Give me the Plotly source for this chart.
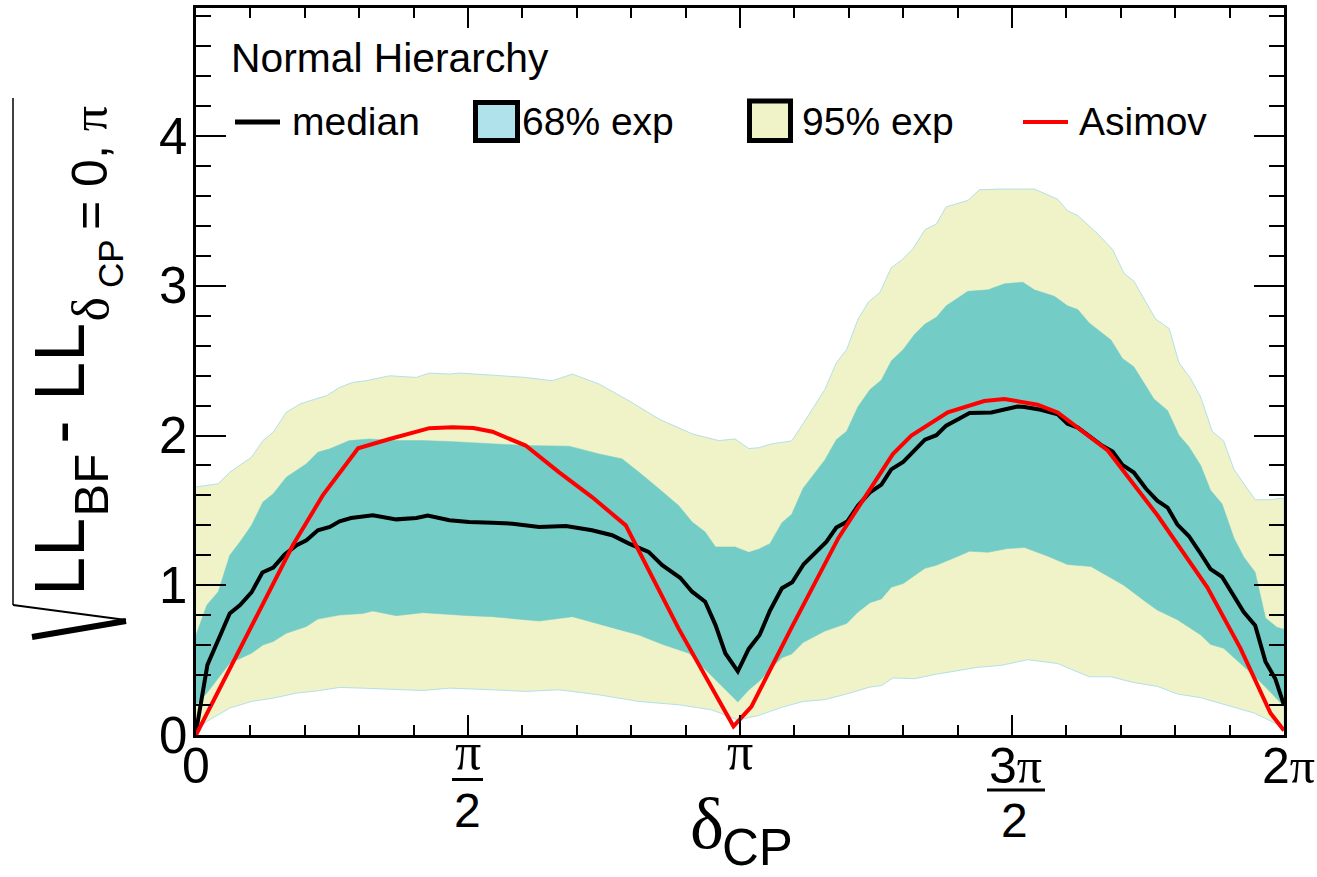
import plotly.graph_objects as go

# ---------------- data (x in units of pi) ----------------
median_x = [0.0, 0.021, 0.062, 0.081, 0.102, 0.122, 0.142, 0.163, 0.185, 0.203, 0.224, 0.246, 0.264, 0.285,
            0.325, 0.368, 0.405, 0.426, 0.466, 0.502, 0.545, 0.582, 0.631, 0.680, 0.728, 0.765, 0.796, 0.832,
            0.857, 0.890, 0.912, 0.936, 0.955, 0.973, 0.996, 1.016, 1.036, 1.055, 1.077, 1.096, 1.117, 1.138,
            1.159, 1.177, 1.197, 1.217, 1.239, 1.260, 1.278, 1.300, 1.321, 1.340, 1.361, 1.379, 1.401, 1.422,
            1.462, 1.486, 1.510, 1.523, 1.553, 1.584, 1.602, 1.621, 1.645, 1.666, 1.685, 1.703, 1.724, 1.746,
            1.767, 1.786, 1.804, 1.825, 1.844, 1.865, 1.886, 1.908, 1.926, 1.947, 1.966, 1.984, 2.0]
median_y = [0.02, 0.468, 0.812, 0.868, 0.952, 1.085, 1.118, 1.205, 1.267, 1.300, 1.367, 1.389, 1.427, 1.449,
            1.467, 1.440, 1.449, 1.465, 1.434, 1.423, 1.418, 1.411, 1.389, 1.396, 1.367, 1.334, 1.278, 1.223,
            1.134, 1.050, 0.957, 0.890, 0.734, 0.546, 0.425, 0.575, 0.668, 0.830, 0.980, 1.020, 1.140, 1.214,
            1.291, 1.385, 1.425, 1.532, 1.621, 1.672, 1.774, 1.824, 1.901, 1.972, 2.002, 2.066, 2.109, 2.150,
            2.154, 2.175, 2.193, 2.190, 2.172, 2.142, 2.079, 2.053, 1.989, 1.931, 1.893, 1.804, 1.753, 1.646,
            1.565, 1.519, 1.405, 1.329, 1.227, 1.108, 1.057, 0.922, 0.821, 0.732, 0.490, 0.376, 0.20]

asimov_x = [0.0, 0.062, 0.099, 0.178, 0.233, 0.298, 0.356, 0.429, 0.472, 0.510, 0.545, 0.606, 0.667, 0.728,
            0.790, 0.887, 0.988, 1.021, 1.095, 1.181, 1.281, 1.315, 1.382, 1.449, 1.486, 1.547, 1.584, 1.676,
            1.767, 1.859, 1.920, 1.975, 2.0]
asimov_y = [0.0, 0.44, 0.70, 1.267, 1.60, 1.915, 1.977, 2.049, 2.055, 2.050, 2.025, 1.933, 1.756, 1.589,
            1.40, 0.712, 0.058, 0.19, 0.719, 1.316, 1.876, 2.00, 2.155, 2.23, 2.244, 2.206, 2.154, 1.90,
            1.469, 0.986, 0.579, 0.147, 0.03]

up95_x = [0.0, 0.041, 0.062, 0.102, 0.123, 0.142, 0.166, 0.191, 0.209, 0.240, 0.264, 0.288, 0.313, 0.356,
          0.405, 0.429, 0.466, 0.484, 0.545, 0.606, 0.655, 0.692, 0.741, 0.796, 0.851, 0.912, 0.961, 0.991,
          1.016, 1.034, 1.058, 1.095, 1.116, 1.156, 1.177, 1.196, 1.217, 1.236, 1.257, 1.278, 1.297, 1.318,
          1.340, 1.361, 1.379, 1.419, 1.440, 1.480, 1.541, 1.584, 1.602, 1.621, 1.657, 1.685, 1.706, 1.724,
          1.764, 1.789, 1.807, 1.828, 1.847, 1.868, 1.889, 1.908, 1.947, 1.975, 2.0]
up95_y = [1.656, 1.678, 1.755, 1.855, 1.966, 2.022, 2.155, 2.210, 2.232, 2.266, 2.321, 2.355, 2.366, 2.399,
          2.388, 2.417, 2.410, 2.417, 2.403, 2.388, 2.366, 2.410, 2.344, 2.232, 2.110, 2.011, 1.966, 1.977,
          1.913, 1.918, 1.944, 1.964, 2.079, 2.307, 2.485, 2.574, 2.778, 2.891, 2.955, 3.120, 3.171, 3.248,
          3.374, 3.413, 3.527, 3.570, 3.641, 3.646, 3.646, 3.578, 3.501, 3.469, 3.349, 3.242, 3.083, 3.031,
          2.778, 2.714, 2.485, 2.383, 2.256, 2.028, 1.964, 1.774, 1.571, 1.571, 1.583]

lo95_x = [0.0, 0.020, 0.062, 0.102, 0.142, 0.185, 0.224, 0.264, 0.307, 0.368, 0.417, 0.466, 0.545, 0.606,
          0.667, 0.741, 0.814, 0.887, 0.948, 0.996, 1.034, 1.077, 1.116, 1.156, 1.196, 1.239, 1.260, 1.281,
          1.321, 1.361, 1.401, 1.437, 1.480, 1.510, 1.529, 1.584, 1.642, 1.682, 1.724, 1.767, 1.804, 1.847,
          1.896, 1.945, 2.0]
lo95_y = [0.03, 0.091, 0.18, 0.224, 0.246, 0.28, 0.295, 0.318, 0.313, 0.306, 0.297, 0.313, 0.302, 0.291,
          0.302, 0.268, 0.224, 0.202, 0.168, 0.10, 0.13, 0.185, 0.224, 0.236, 0.274, 0.320, 0.330, 0.381,
          0.376, 0.406, 0.432, 0.452, 0.465, 0.490, 0.503, 0.477, 0.389, 0.389, 0.350, 0.325, 0.274, 0.249,
          0.198, 0.147, 0.05]

up68_x = [0.0, 0.020, 0.041, 0.062, 0.081, 0.102, 0.123, 0.142, 0.166, 0.203, 0.224, 0.246, 0.282, 0.319,
          0.368, 0.417, 0.466, 0.545, 0.606, 0.686, 0.741, 0.783, 0.814, 0.851, 0.887, 0.912, 0.936, 0.955,
          0.991, 1.016, 1.034, 1.055, 1.077, 1.095, 1.116, 1.156, 1.177, 1.196, 1.217, 1.239, 1.260, 1.278,
          1.300, 1.321, 1.340, 1.361, 1.379, 1.419, 1.456, 1.486, 1.520, 1.541, 1.578, 1.602, 1.621, 1.642,
          1.682, 1.703, 1.724, 1.761, 1.786, 1.807, 1.825, 1.847, 1.865, 1.886, 1.908, 1.926, 1.947, 1.966,
          1.987, 2.0]
up68_y = [0.668, 0.868, 0.957, 1.200, 1.290, 1.400, 1.556, 1.611, 1.722, 1.811, 1.889, 1.911, 1.966, 1.977,
          1.966, 1.966, 1.960, 1.944, 1.933, 1.929, 1.877, 1.844, 1.756, 1.644, 1.533, 1.423, 1.356, 1.256,
          1.256, 1.220, 1.240, 1.278, 1.418, 1.474, 1.647, 1.837, 1.972, 2.028, 2.193, 2.307, 2.371, 2.498,
          2.574, 2.676, 2.744, 2.790, 2.866, 2.963, 2.973, 3.013, 3.024, 2.973, 2.930, 2.866, 2.841, 2.752,
          2.638, 2.515, 2.459, 2.244, 2.167, 2.002, 1.926, 1.799, 1.634, 1.545, 1.316, 1.189, 1.087, 0.782,
          0.719, 0.706]

lo68_x = [0.0, 0.020, 0.062, 0.102, 0.123, 0.142, 0.166, 0.203, 0.224, 0.264, 0.307, 0.325, 0.368, 0.417,
          0.466, 0.502, 0.545, 0.631, 0.692, 0.765, 0.814, 0.857, 0.906, 0.936, 0.967, 0.996, 1.016, 1.037,
          1.055, 1.077, 1.095, 1.116, 1.156, 1.196, 1.217, 1.239, 1.260, 1.278, 1.300, 1.340, 1.361, 1.401,
          1.422, 1.456, 1.492, 1.523, 1.566, 1.602, 1.645, 1.682, 1.706, 1.743, 1.767, 1.804, 1.847, 1.865,
          1.889, 1.920, 1.947, 1.975, 2.0]
lo68_y = [0.20, 0.28, 0.479, 0.546, 0.601, 0.624, 0.679, 0.724, 0.774, 0.801, 0.812, 0.828, 0.797, 0.817,
          0.806, 0.797, 0.790, 0.761, 0.790, 0.717, 0.668, 0.606, 0.546, 0.435, 0.324, 0.220, 0.300, 0.364,
          0.439, 0.516, 0.541, 0.617, 0.694, 0.744, 0.821, 0.884, 0.909, 0.986, 1.011, 1.113, 1.133, 1.194,
          1.227, 1.220, 1.245, 1.252, 1.194, 1.138, 1.125, 1.049, 0.999, 0.897, 0.834, 0.770, 0.668, 0.605,
          0.579, 0.477, 0.389, 0.287, 0.19]

x_tickvals = [0, 0.5, 1, 1.5, 2]
y_tickvals = [0, 1, 2, 3, 4]
y_ticktext = ["0", "1", "2", "3", "4"]
legend_labels = ["median", "68% exp", "95% exp", "Asimov"]
header_text = "Normal Hierarchy"

# ---------------- layout geometry ----------------
W, H = 1317, 877
L, R, T, B = 196, 1284, 8, 735
YMAX = 4.855
SANS = "Liberation Sans"
SERIF = "Liberation Serif"

def fx(px):
    return (px - L) / (R - L)

def fy(py):
    return (B - py) / (B - T)

YELLOW = "#EFF3C7"
TEAL = "#74CCC6"
LBLUE = "#B0E2EC"
EDGE = "#B4E0EA"

fig = go.Figure()
fig.add_trace(go.Scatter(x=up95_x + lo95_x[::-1], y=up95_y + lo95_y[::-1], mode="lines",
                         fill="toself", fillcolor=YELLOW, line=dict(color=EDGE, width=1),
                         hoverinfo="skip", showlegend=False))
fig.add_trace(go.Scatter(x=up68_x + lo68_x[::-1], y=up68_y + lo68_y[::-1], mode="lines",
                         fill="toself", fillcolor=TEAL, line=dict(color=TEAL, width=0.5),
                         hoverinfo="skip", showlegend=False))
fig.add_trace(go.Scatter(x=median_x, y=median_y, mode="lines", line=dict(color="black", width=4),
                         showlegend=False))
fig.add_trace(go.Scatter(x=asimov_x, y=asimov_y, mode="lines", line=dict(color="#FF0000", width=4),
                         showlegend=False))

axis_common = dict(showline=True, linecolor="black", linewidth=3, mirror="allticks",
                   ticks="inside", tickcolor="black", tickwidth=2, showgrid=False, zeroline=False,
                   showticklabels=False)
fig.update_xaxes(range=[0, 2], tickvals=x_tickvals, ticklen=20,
                 minor=dict(dtick=0.1, ticklen=10, tickwidth=2, tickcolor="black", ticks="inside",
                            showgrid=False), **axis_common)
fig.update_yaxes(range=[0, YMAX], tickvals=y_tickvals, ticklen=30,
                 minor=dict(dtick=0.2, ticklen=15, tickwidth=2, tickcolor="black", ticks="inside",
                            showgrid=False), **axis_common)

ann = []
shapes = []

def text(t, cx, cy, size, family=SANS, xanchor="center", angle=0, xref="paper", yref="paper", xv=None, yv=None):
    ann.append(dict(text=t, x=fx(cx) if xv is None else xv, y=fy(cy) if yv is None else yv,
                    xref=xref, yref=yref, showarrow=False,
                    xanchor=xanchor, yanchor="middle", textangle=angle,
                    font=dict(family=family, size=size, color="black")))

PI = '<span style="font-family:Liberation Serif">π</span>'

# y tick labels (data-positioned)
for v, t in zip(y_tickvals, y_ticktext):
    text(t, 189, 0, 51, xanchor="right", yref="y", yv=v)

# x tick labels
text("0", 196, 765.7, 50)
text(PI, 468, 751, 52)
text("2", 467, 810.4, 48)
shapes.append(dict(type="line", xref="paper", yref="paper", x0=fx(452), x1=fx(483), y0=fy(779.5), y1=fy(779.5),
                   line=dict(color="black", width=3)))
text("π", 740, 751, 52, family=SERIF)
text("3" + PI, 1015.5, 765.7, 50)
shapes.append(dict(type="line", xref="paper", yref="paper", x0=fx(987), x1=fx(1045), y0=fy(790), y1=fy(790),
                   line=dict(color="black", width=3)))
text("2", 1014.5, 820.7, 48)
text("2" + PI, 1288.5, 765.7, 50)

# x axis title
text("δ", 707, 824, 72, family=SERIF)
text("CP", 757, 848, 51)

# y axis title (rotated pieces)
text("LL", 59.7, 557, 70, angle=-90)
text("BF", 90, 485.5, 49, angle=-90)
text("-", 59.7, 432, 70, angle=-90)
text("LL", 59.7, 362, 70, angle=-90)
text("δ", 89.5, 309, 52, family=SERIF, angle=-90)
text("CP", 110, 264, 35, angle=-90)
text("= 0, " + PI, 90, 168, 50, angle=-90)
# radical sign
for (x0, y0, x1, y1, w) in [(13, 98, 13, 605, 1.5), (13, 605, 126, 620, 2), (126, 621, 32, 637, 6)]:
    shapes.append(dict(type="line", xref="paper", yref="paper", x0=fx(x0), y0=fy(y0), x1=fx(x1), y1=fy(y1),
                       line=dict(color="black", width=w)))

# legend
text(header_text, 229, 57.8, 40.8, xanchor="left")
shapes.append(dict(type="line", xref="paper", yref="paper", x0=fx(235), x1=fx(280), y0=fy(122), y1=fy(122),
                   line=dict(color="black", width=5)))
text(legend_labels[0], 289.5, 121.5, 39, xanchor="left")
shapes.append(dict(type="rect", xref="paper", yref="paper", x0=fx(475.5), x1=fx(517.5), y0=fy(102.5), y1=fy(140.5),
                   fillcolor=LBLUE, line=dict(color="black", width=5)))
text(legend_labels[1], 520, 121.5, 39, xanchor="left")
shapes.append(dict(type="rect", xref="paper", yref="paper", x0=fx(749.5), x1=fx(790.5), y0=fy(101), y1=fy(140.5),
                   fillcolor=YELLOW, line=dict(color="black", width=5)))
text(legend_labels[2], 800, 121.5, 39, xanchor="left")
shapes.append(dict(type="line", xref="paper", yref="paper", x0=fx(1023), x1=fx(1068), y0=fy(122), y1=fy(122),
                   line=dict(color="#FF0000", width=4)))
text(legend_labels[3], 1077, 121.5, 39, xanchor="left")

fig.update_layout(width=W, height=H, margin=dict(l=L, r=W - R, t=T, b=H - B, autoexpand=False),
                  paper_bgcolor="white", plot_bgcolor="white", annotations=ann, shapes=shapes,
                  showlegend=False)
fig.write_html("out.html", config={"displayModeBar": False})
